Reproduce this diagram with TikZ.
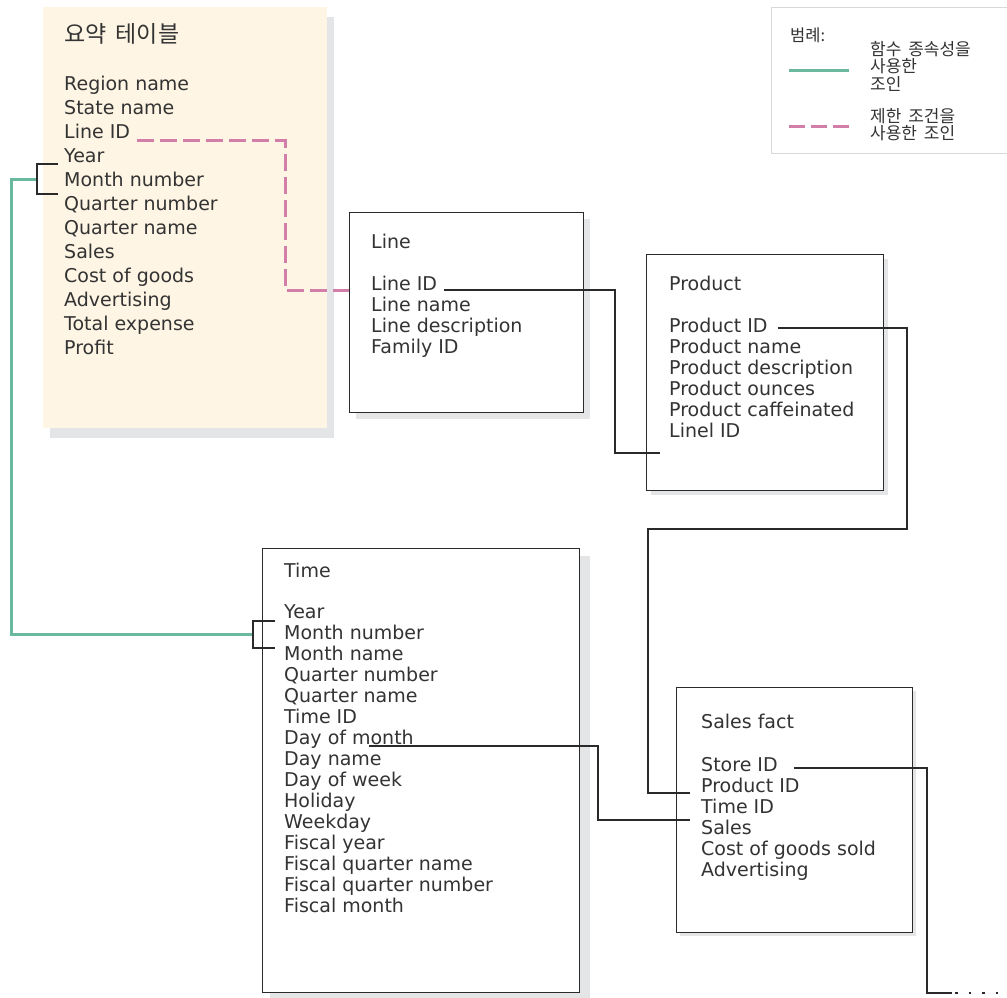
\documentclass[tikz,border=0pt]{standalone}
\usepackage{fontspec}
\setmainfont{DejaVu Sans}
\newfontfamily\krfont{Noto Sans CJK KR}
\usetikzlibrary{calc}
\definecolor{creamc}{HTML}{FEF5E4}
\definecolor{shadc}{HTML}{E4E5E7}
\definecolor{txtc}{HTML}{333333}
\definecolor{greenc}{HTML}{6AB8A0}
\definecolor{pinkc}{HTML}{D27EA8}
\definecolor{linec}{HTML}{2A2A2A}
\definecolor{legc}{HTML}{D8D8D8}
\newcommand{\krsp}{\hspace{0.4em}}
\begin{document}
\begin{tikzpicture}[x=1pt,y=-1pt,
  fld/.style={anchor=base west,inner sep=0pt,text=txtc,font=\fontsize{19}{19}\selectfont},
  krtitle/.style={anchor=west,inner sep=0pt,text=txtc,font=\krfont\fontsize{23}{23}\selectfont},
  krleg/.style={anchor=north west,inner sep=0pt,align=left,text=txtc,font=\krfont\fontsize{17}{17.5}\selectfont},
  tbox/.style={draw=linec,line width=1.3pt,fill=white,anchor=north west,inner sep=0pt},
  shadowbox/.style={fill=shadc},
  conn/.style={draw=linec,line width=1.2pt},
  fdep/.style={draw=greenc,line width=3pt},
  cjoin/.style={draw=pinkc,line width=3pt,dash pattern=on 17pt off 6pt},
  brk/.style={draw=linec,line width=1.2pt}]
\useasboundingbox (0,0) rectangle (1007,998);

% ---------- summary table ----------
\fill[shadowbox] (50,17) rectangle (334,438);
\node[anchor=north west,fill=creamc,minimum width=284pt,minimum height=421pt,inner sep=0pt] (summary) at (43,7) {};
\node[krtitle] (stitle) at (64,34) {요약\krsp 테이블};
\foreach \t [count=\i] in {Region name,State name,Line ID,Year,Month number,Quarter number,Quarter name,Sales,Cost of goods,Advertising,Total expense,Profit}
  \node[fld] (s\i) at (64,{66.5+24*\i}) {\t};

% ---------- Line ----------
\fill[shadowbox] (356,219) rectangle (590,419);
\node[tbox,minimum width=234pt,minimum height=200pt] (linebox) at (349,212) {};
\node[fld] (ltitle) at (371,248) {Line};
\foreach \t [count=\i] in {Line ID,Line name,Line description,Family ID}
  \node[fld] (l\i) at (371,{269+21*\i}) {\t};

% ---------- Product ----------
\fill[shadowbox] (651,259) rectangle (888,495);
\node[tbox,minimum width=237pt,minimum height=236pt] (prodbox) at (646,254) {};
\node[fld] (ptitle) at (669,290) {Product};
\foreach \t [count=\i] in {Product ID,Product name,Product description,Product ounces,Product caffeinated,Linel ID}
  \node[fld] (p\i) at (669,{311+21*\i}) {\t};

% ---------- Time ----------
\fill[shadowbox] (270,556) rectangle (590,1000);
\node[tbox,minimum width=317pt,minimum height=444pt] (timebox) at (262,548) {};
\node[fld] (ttitle) at (284,577) {Time};
\foreach \t [count=\i] in {Year,Month number,Month name,Quarter number,Quarter name,Time ID,Day of month,Day name,Day of week,Holiday,Weekday,Fiscal year,Fiscal quarter name,Fiscal quarter number,Fiscal month}
  \node[fld] (t\i) at (284,{597+21*\i}) {\t};

% ---------- Sales fact ----------
\fill[shadowbox] (680,691) rectangle (916,936);
\node[tbox,minimum width=236pt,minimum height=245pt] (salesbox) at (676,687) {};
\node[fld] (ftitle) at (701,728) {Sales fact};
\foreach \t [count=\i] in {Store ID,Product ID,Time ID,Sales,Cost of goods sold,Advertising}
  \node[fld] (f\i) at (701,{750+21*\i}) {\t};

% ---------- legend ----------
\node[draw=legc,line width=1.3pt,anchor=north west,minimum width=240pt,minimum height=146pt,inner sep=0pt] (legend) at (771,7) {};
\node[anchor=west,inner sep=0pt,text=txtc,font=\krfont\fontsize{16.5}{16.5}\selectfont] (legt) at (790,35) {범례:};
\coordinate (g1) at (789,71);
\coordinate (g2) at (849,71);
\draw[fdep] (g1) -- (g2);
\node[krleg] (legg) at (870,41) {함수\krsp 종속성을\\사용한\\조인};
\coordinate (k1) at (789,126);
\coordinate (k2) at (849,126);
\draw[cjoin,dash pattern=on 16pt off 6pt] (k1) -- (k2);
\node[krleg] (legk) at (870,108) {제한\krsp 조건을\\사용한\krsp 조인};

% ---------- connectors ----------
% pink constraint join
\coordinate (pkb) at (285,290);
\draw[cjoin] ([xshift=7pt,yshift=-2pt]s3.base east) -| (pkb) -- (linebox.west |- pkb);

% green functional dependency join with brackets
\coordinate (sb1) at (58,164);
\coordinate (sb2) at (58,194);
\coordinate (sbm) at (37,179);
\coordinate (tb1) at (275,621);
\coordinate (tb2) at (275,648);
\coordinate (tbm) at (253,634.5);
\draw[fdep] (sbm) -- ++(-26,0) |- (tbm);
\draw[brk] (sb1) -- ++(-21,0) |- (sb2);
\draw[brk] (tb1) -- ++(-22,0) |- (tb2);

% Line -> Product
\coordinate (lpb) at (615,453);
\coordinate (lpe) at (660,453);
\draw[conn] ([xshift=7pt]l1.base east) -| (lpb) -- (lpe);

% Product -> Sales fact
\coordinate (psa) at (907,529);
\coordinate (psb) at (648,529);
\draw[conn] ([xshift=10pt,yshift=4pt]p1.base east) -| (psa) -- (psb) |- ([xshift=-11pt,yshift=-1pt]f2.base west);

% Time -> Sales fact
\coordinate (tsb) at (598,820);
\draw[conn] ([xshift=85pt,yshift=-2pt]t7.base west) -| (tsb) -- ([xshift=-11pt]f4.base west |- tsb);

% Store ID -> off page
\coordinate (sda) at (927,993);
\coordinate (dots) at (952,993);
\draw[conn] ([xshift=16pt,yshift=3pt]f1.base east) -| (sda) -- (dots);
\draw[linec,line width=2.5pt,dash pattern=on 2.5pt off 11pt] ([xshift=3pt]dots) -- ++(48,0);
\end{tikzpicture}
\end{document}
